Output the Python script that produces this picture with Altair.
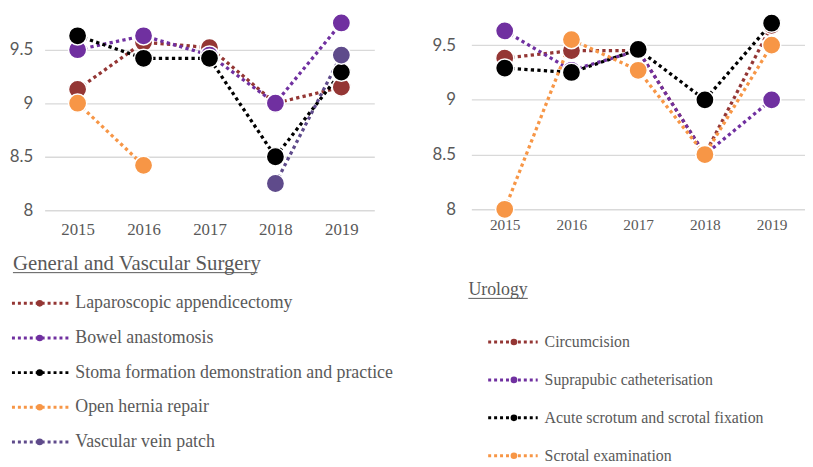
import altair as alt
import pandas as pd

years = ["2015", "2016", "2017", "2018", "2019"]

# General and Vascular Surgery
gv_title = "General and Vascular Surgery"
gv_names = [
    "Laparoscopic appendicectomy",
    "Bowel anastomosis",
    "Stoma formation demonstration and practice",
    "Open hernia repair",
    "Vascular vein patch",
]
gv_colors = ["#943634", "#7030A0", "#000000", "#F79646", "#5F4B8B"]
lap_appendicectomy = [9.13, 9.57, 9.52, 9.0, 9.15]
bowel_anastomosis = [9.5, 9.63, 9.45, 9.0, 9.75]
stoma_formation = [9.63, 9.42, 9.42, 8.5, 9.29]
open_hernia = [9.0, 8.42, None, None, None]
vein_patch = [None, None, None, 8.25, 9.45]
gv_values = [lap_appendicectomy, bowel_anastomosis, stoma_formation, open_hernia, vein_patch]

# Urology
uro_title = "Urology"
uro_names = [
    "Circumcision",
    "Suprapubic catheterisation",
    "Acute scrotum and scrotal fixation",
    "Scrotal examination",
]
uro_colors = ["#943634", "#7030A0", "#000000", "#F79646"]
circumcision = [9.38, 9.45, 9.45, 8.5, 9.68]
suprapubic = [9.63, 9.27, 9.45, 8.5, 9.0]
acute_scrotum = [9.29, 9.25, 9.46, 9.0, 9.7]
scrotal_exam = [8.0, 9.55, 9.27, 8.5, 9.5]
uro_values = [circumcision, suprapubic, acute_scrotum, scrotal_exam]

y_ticks = [8, 8.5, 9, 9.5]

TEXT = "#595959"
SERIF = "Liberation Serif"
SANS = "Lato"


def long_df(names, values):
    rows = []
    for i, (n, vals) in enumerate(zip(names, values)):
        for yr, v in zip(years, vals):
            if v is not None:
                rows.append({"series": n, "year": yr, "value": v, "ord": i})
    return pd.DataFrame(rows)


def plot(names, colors, values, width, height, ymax, ysize, xsize, yext, ypad, xpad):
    df = long_df(names, values)
    color = alt.Color("series:N", scale=alt.Scale(domain=names, range=colors), legend=None)
    x = alt.X(
        "year:O",
        sort=years,
        scale=alt.Scale(domain=years),
        axis=alt.Axis(
            title=None, labelAngle=0, domain=False, ticks=False, grid=False,
            labelFont=SERIF, labelFontSize=xsize, labelColor=TEXT,
            labelPadding=xpad, minExtent=30, maxExtent=30,
        ),
    )
    y = alt.Y(
        "value:Q",
        scale=alt.Scale(domain=[8, ymax], nice=False, zero=False),
        axis=alt.Axis(
            title=None, values=y_ticks, format="~g", domain=False, ticks=False,
            grid=True, gridColor="#D9D9D9", gridWidth=1.4,
            labelFont=SANS, labelFontSize=ysize, labelColor=TEXT,
            labelPadding=ypad, minExtent=yext, maxExtent=yext,
        ),
    )
    line = alt.Chart(df).mark_line(
        strokeDash=[3.3, 3.3], strokeWidth=3.3, strokeCap="butt"
    ).encode(x=x, y=y, color=color, detail="series:N", order="year:O")
    pts = alt.Chart(df).mark_circle(
        size=340, opacity=1, stroke="white", strokeWidth=1.5
    ).encode(x=x, y=y, color=color, order="ord:Q")
    return alt.layer(line, pts).properties(width=width, height=height)


def legend(names, colors, title, width, height, tx, ty, ulw, uly, lx0, lx1, dx, txx,
           y0, y1, fsize, tsize):
    ldf = pd.DataFrame({"series": names, "idx": list(range(len(names)))})
    color = alt.Color("series:N", scale=alt.Scale(domain=names, range=colors), legend=None)
    y = alt.Y("idx:Q", scale=alt.Scale(domain=[0, len(names) - 1], range=[y0, y1]), axis=None)
    base = alt.Chart(ldf)
    lines = base.mark_rule(strokeDash=[3, 3], strokeWidth=3).encode(
        x=alt.value(lx0), x2=alt.value(lx1), y=y, color=color
    )
    dots = base.mark_circle(size=45, opacity=1).encode(x=alt.value(dx), y=y, color=color)
    texts = base.mark_text(
        align="left", baseline="middle", font=SERIF, fontSize=fsize, color=TEXT
    ).encode(x=alt.value(txx), y=y, text="series:N")
    tdf = pd.DataFrame({"t": [title]})
    ttl = alt.Chart(tdf).mark_text(
        align="left", baseline="middle", font=SERIF, fontSize=tsize, color=TEXT
    ).encode(x=alt.value(tx), y=alt.value(ty), text="t:N")
    ul = alt.Chart(tdf).mark_rule(color=TEXT, strokeWidth=1).encode(
        x=alt.value(tx), x2=alt.value(tx + ulw), y=alt.value(uly)
    )
    return alt.layer(lines, dots, texts, ttl, ul).properties(width=width, height=height)


left_plot = plot(gv_names, gv_colors, gv_values, 333, 200, 9.85, 17, 17, 37, 12, 11)
left_leg = legend(gv_names, gv_colors, gv_title, 360, 200,
                  -32, 24, 247, 33, -33, 25, -5, 31, 64, 204, 18, 21)
right_plot = plot(uro_names, uro_colors, uro_values, 337, 199, 9.80, 17, 15.5, 44, 16, 8)
right_leg = legend(uro_names, uro_colors, uro_title, 337, 190,
                   -3, 52, 60, 60, 17, 67, 43, 74, 104, 219, 16, 18)

left = alt.vconcat(left_plot, left_leg, spacing=0)
right = alt.vconcat(right_plot, right_leg, spacing=0)

chart = (
    alt.hconcat(left, right, spacing=27)
    .resolve_scale(color="independent")
    .properties(padding={"left": 0, "top": 0, "right": 0, "bottom": 0}, background="white")
    .configure_view(stroke=None)
)

chart.save("out.html", embed_options={"renderer": "svg", "actions": False})
